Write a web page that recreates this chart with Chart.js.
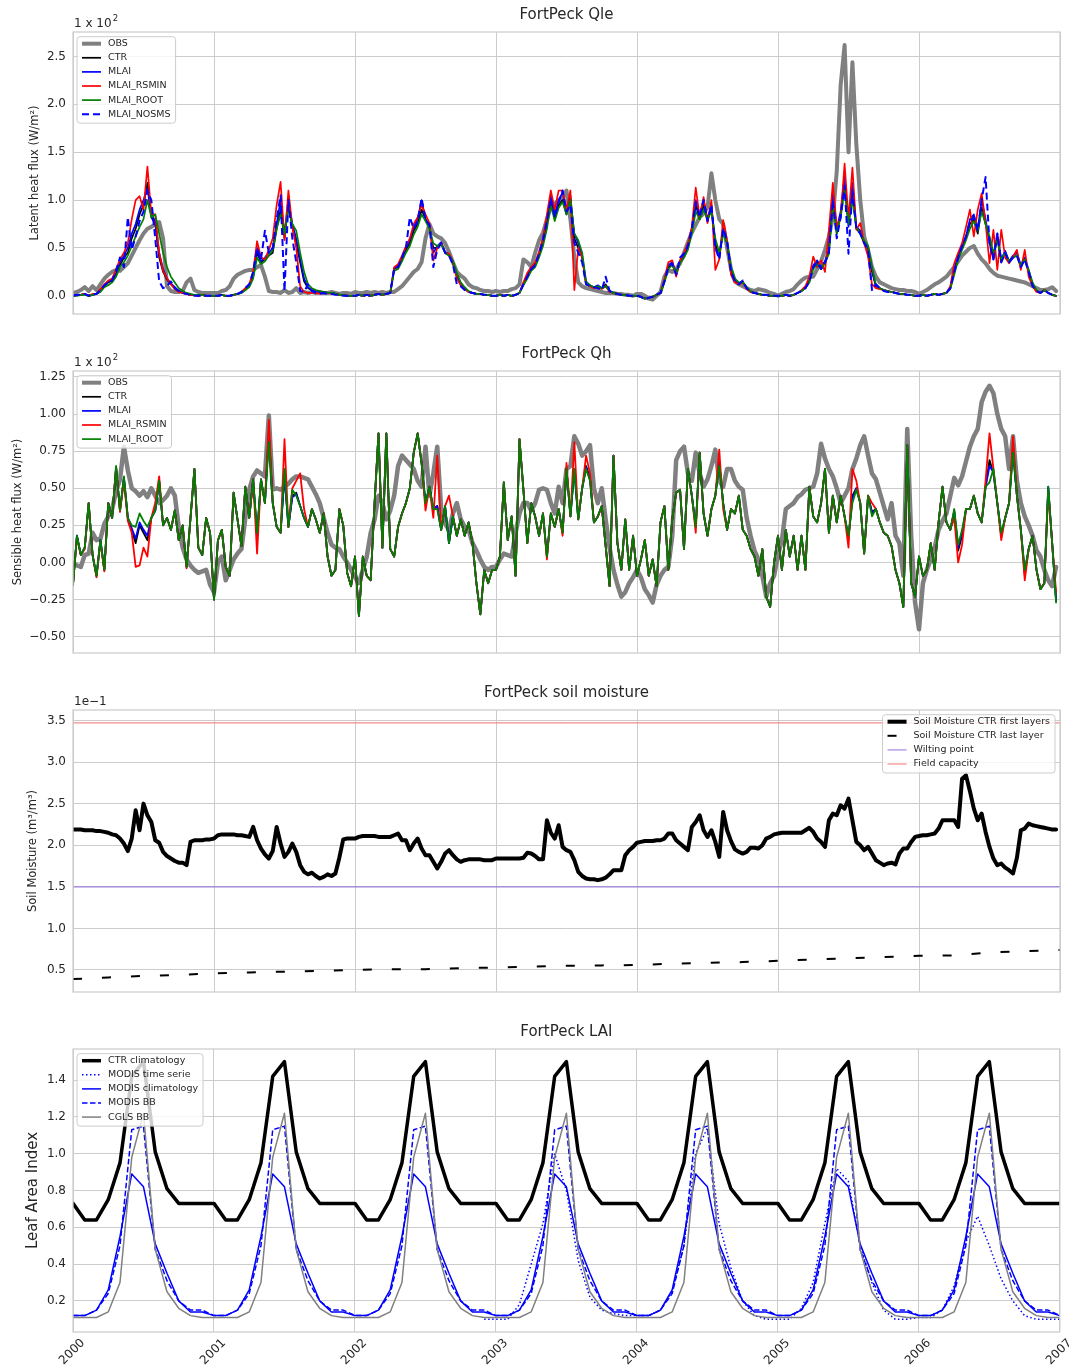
<!DOCTYPE html>
<html>
<head>
<meta charset="utf-8">
<title>FortPeck</title>
<script src="https://cdn.jsdelivr.net/npm/chart.js@4.4.1/dist/chart.umd.min.js"></script>
<style>
  html, body { margin: 0; padding: 0; background: #fff; }
  #fig { position: relative; width: 1074px; height: 1369px; }
  #fig canvas { position: absolute; left: 0; }
</style>
</head>
<body>
<div id="fig">
  <canvas id="qle" width="1074" height="339" style="top:0px"></canvas>
  <canvas id="qh" width="1074" height="339" style="top:339px"></canvas>
  <canvas id="sm" width="1074" height="339" style="top:678px"></canvas>
  <canvas id="lai" width="1074" height="352" style="top:1017px"></canvas>
</div>
<script>
// time bases: ~10-day steps for the fluxes and soil moisture, monthly for LAI
const days = Array.from({length: 252}, (_, i) => 2000 + i / 36);
const months = Array.from({length: 85}, (_, i) => 2000 + i / 12);
const quarters = Array.from({length: 29}, (_, i) => 2000 + i / 4);
const years = [2000, 2001, 2002, 2003, 2004, 2005, 2006, 2007];

// latent heat flux, W/m2
const qleObs = [
  3,4,6,9,5,10,6,12,18,22,25,27,26,30,34,42,50,58,65,70,72,75,77,60,10,5,4,4,5,14,18,6,4,3,3,3,
  3,3,5,6,10,18,22,24,26,27,27,30,32,20,5,4,4,3,6,3,4,8,3,4,3,4,3,4,3,3,4,3,2,3,3,2,
  4,3,3,4,3,4,3,4,3,4,4,7,10,15,20,25,28,35,60,75,65,62,60,55,46,35,25,21,18,12,9,8,6,5,5,4,
  5,4,5,5,7,8,12,38,35,30,45,58,66,80,92,96,100,102,110,80,40,14,10,8,7,6,5,4,3,3,3,2,2,1,1,0,
  2,2,0,-3,-4,0,4,20,27,25,28,34,45,56,66,74,82,86,92,128,100,80,75,50,28,15,12,10,8,6,5,7,6,5,3,2,
  0,2,4,5,7,12,16,19,20,20,28,36,48,62,82,130,220,262,150,244,158,100,62,48,30,20,14,12,10,8,7,6,6,5,5,4,
  2,4,6,9,12,14,17,20,25,30,36,42,46,50,52,44,38,34,28,24,21,20,19,18,17,16,15,14,12,10,8,6,6,7,9,5
];
const qleCtr = [
  0,1,1,2,0,1,2,6,10,14,16,22,32,40,45,60,70,85,95,118,82,75,40,25,17,12,8,5,3,2,1,1,0,1,0,0,
  0,0,1,0,0,1,2,3,6,10,20,45,35,38,42,45,70,90,60,95,72,55,35,15,8,6,5,4,4,3,3,2,1,1,0,0,
  0,1,0,1,0,1,2,1,2,3,28,30,38,48,55,68,75,90,80,72,50,50,55,45,42,35,20,12,8,4,3,2,2,1,1,0,
  0,1,0,1,0,1,3,12,20,28,32,42,55,75,100,80,95,100,85,105,60,50,40,12,10,9,10,8,12,5,3,2,1,1,0,0,
  0,-1,-3,-2,-1,1,3,15,30,33,22,35,40,50,68,95,80,95,78,92,55,40,68,55,25,15,12,15,8,4,3,2,1,1,0,0,
  0,0,1,0,1,3,5,8,15,30,35,28,35,45,105,65,85,120,75,110,70,65,55,50,25,10,8,6,5,4,3,2,2,1,1,0,
  0,1,0,1,2,1,2,3,8,25,40,50,60,75,80,65,92,75,60,40,62,35,45,35,40,42,30,38,25,12,5,3,6,3,1,0
];
const qleMlai = [
  0,1,1,2,0,1,2,6,11,15,17,24,35,42,50,65,75,90,100,112,85,78,45,28,18,13,9,5,3,2,1,1,0,1,0,0,
  0,0,1,0,0,1,2,3,7,11,22,50,36,40,45,50,75,100,65,100,75,60,38,18,9,6,5,4,4,3,3,2,1,1,0,0,
  0,1,0,1,0,1,2,1,2,3,29,31,40,50,58,72,80,100,80,74,45,52,56,46,43,36,22,13,8,4,3,2,2,1,1,0,
  0,1,0,1,0,1,3,13,22,30,33,45,60,80,105,85,100,108,88,100,65,55,42,14,11,9,11,8,10,5,3,2,1,1,0,0,
  0,-1,-3,-2,-1,1,3,16,32,35,24,36,42,52,70,100,85,100,80,95,50,42,70,55,28,16,13,14,8,4,3,2,1,1,0,0,
  0,0,1,0,1,3,5,9,16,32,37,30,36,50,108,70,88,125,72,118,72,68,56,50,28,10,8,6,5,4,3,2,2,1,1,0,
  0,1,0,1,2,1,2,3,9,27,42,52,62,80,85,70,100,80,55,38,65,38,47,36,42,45,32,40,27,12,5,3,6,3,1,0
];
const qleRsmin = [
  0,1,1,2,0,2,2,7,12,16,18,28,38,45,55,80,100,104,90,135,85,85,45,26,18,12,7,4,3,2,1,1,0,1,0,0,
  0,0,1,0,0,1,2,4,8,12,25,57,40,38,48,60,95,119,58,110,72,50,10,4,3,3,3,2,3,3,2,2,1,1,0,0,
  0,1,0,1,0,1,2,1,2,3,30,33,42,52,60,75,82,95,85,76,37,50,55,45,44,36,18,11,7,4,3,2,2,1,1,0,
  0,1,0,1,0,1,3,14,24,30,35,46,60,85,110,90,110,110,90,110,6,50,40,12,10,8,9,7,10,4,3,2,1,1,0,0,
  0,-1,-3,-2,-1,1,3,17,35,37,20,37,45,55,72,113,82,103,76,100,27,38,79,58,22,14,12,14,7,4,3,2,1,1,0,0,
  0,0,1,0,1,3,6,10,20,41,30,37,25,69,118,72,82,138,80,134,69,76,55,41,12,8,7,6,5,4,3,2,2,1,1,0,
  0,1,0,1,2,1,2,3,10,34,45,55,72,90,62,90,107,76,34,69,27,69,40,34,41,48,27,48,20,10,4,3,6,3,1,0
];
const qleRoot = [
  0,0,1,1,0,1,2,4,9,11,14,20,30,35,42,52,62,72,80,100,82,85,65,45,30,20,14,8,5,3,2,1,1,1,0,0,
  0,0,1,0,0,1,2,3,6,9,18,40,33,36,42,48,70,85,65,90,75,68,45,25,12,8,6,5,4,3,3,2,1,1,0,0,
  0,1,0,1,0,1,2,1,2,3,26,28,36,45,52,64,72,85,78,70,55,52,54,45,42,36,24,14,9,5,3,2,2,1,1,0,
  0,1,0,1,0,1,3,11,18,26,30,40,52,70,95,78,92,98,85,100,65,58,45,15,11,9,10,8,10,5,3,2,1,1,0,0,
  0,-1,-3,-2,-1,1,3,14,28,32,24,34,40,48,65,88,80,90,80,88,60,45,65,55,30,18,14,14,9,5,3,2,1,1,0,0,
  0,0,1,0,1,3,5,8,14,28,33,28,34,44,95,65,82,110,75,100,72,65,58,52,30,12,8,6,5,4,3,2,2,1,1,0,
  0,1,0,1,2,1,2,3,7,22,38,48,58,70,78,68,88,75,62,45,58,38,45,36,40,42,32,38,27,14,6,3,6,3,1,0
];
const qleNosms = [
  0,1,1,2,0,2,2,6,11,14,16,26,40,30,82,48,62,78,88,110,100,60,15,8,10,15,8,5,3,2,1,0,0,1,0,0,
  0,0,1,0,0,1,2,4,8,12,25,50,38,68,45,50,80,105,5,100,60,35,5,4,12,5,3,2,3,2,2,1,1,0,0,0,
  0,1,0,1,0,1,2,1,2,3,28,30,40,50,82,70,78,102,80,74,30,48,55,45,42,33,12,10,6,4,3,2,2,1,1,0,
  0,1,0,1,0,1,3,12,20,28,32,44,58,78,102,82,98,110,88,95,55,45,35,12,10,9,8,6,20,5,3,2,1,1,0,0,
  0,-1,-4,-2,-1,1,3,15,30,34,22,40,44,52,70,98,82,100,78,95,50,38,70,58,25,15,12,16,8,4,3,2,1,1,0,0,
  0,0,1,0,1,3,5,8,15,30,35,28,35,45,100,60,82,115,44,110,70,65,55,48,6,12,8,5,4,4,3,2,2,1,1,0,
  0,1,0,1,2,1,2,3,8,25,40,52,62,78,82,68,100,124,55,38,65,35,45,35,40,42,30,38,25,10,5,3,6,3,1,0
];

// sensible heat flux, W/m2
const qhObs = [
  0,-2,-3,5,6,20,15,16,26,31,36,48,56,78,62,50,48,45,48,44,50,45,40,42,45,50,45,24,10,2,-2,-5,-7,-6,-5,-15,
  -20,0,4,-12,-5,2,6,9,30,49,58,62,60,58,99,49,50,49,51,53,56,58,58,57,56,51,46,40,30,20,12,10,9,4,0,-5,
  -10,-14,-5,4,20,29,45,40,29,35,45,65,72,69,66,63,55,51,78,45,60,78,36,26,22,33,40,29,24,22,13,8,2,-3,-5,-3,
  -3,2,6,5,4,20,33,40,40,35,40,49,50,49,40,33,51,40,63,65,85,80,72,75,79,50,40,50,29,10,-5,-15,-23,-20,-14,-10,
  -5,-10,-18,-22,-27,-15,-9,-5,-3,18,69,75,78,60,55,74,60,51,56,65,76,55,51,63,63,55,51,49,30,18,8,2,-9,-23,-14,-9,
  5,15,36,38,40,44,46,49,50,51,60,80,70,63,58,50,40,45,50,63,70,79,85,72,60,56,47,38,29,40,18,13,-9,90,18,-27,
  -45,-14,-5,2,10,22,28,33,45,57,52,58,68,78,85,90,108,115,119,114,100,90,85,63,85,55,40,31,25,18,8,4,-5,-12,-16,-3
];
const qhCtr = [
  -15,18,5,10,40,5,-9,15,-5,40,30,64,35,57,30,22,13,25,20,15,30,35,55,25,30,22,35,15,25,-3,30,63,10,5,30,20,
  -25,15,22,-3,-9,47,29,11,51,30,56,18,56,40,88,40,24,20,60,24,45,47,38,30,24,36,29,20,33,4,-9,-5,36,25,-7,-16,
  4,-36,4,-9,-12,40,87,10,87,9,4,24,33,40,50,74,87,67,40,51,36,38,22,38,13,31,18,29,18,27,13,-14,-35,-5,-14,-5,
  -5,4,54,15,31,-9,83,49,13,40,31,18,33,4,33,24,36,20,63,31,63,29,50,65,57,27,31,38,11,-16,72,13,-5,29,-5,18,
  -9,2,15,-9,2,-16,27,38,-5,29,47,49,9,63,45,24,74,33,18,36,45,68,40,22,36,33,45,22,18,9,4,-9,9,-23,-30,0,
  18,-5,22,4,18,-5,18,-5,51,31,27,40,63,20,45,27,45,31,16,45,50,40,6,45,34,36,27,20,18,11,-5,-14,-30,79,-14,-23,
  4,-9,-5,13,-5,27,51,27,22,34,8,18,36,36,45,33,27,51,69,60,40,18,30,40,78,45,22,-8,9,18,-5,-18,-14,50,13,-25
];
const qhMlai = [
  -15,18,5,10,40,5,-9,15,-5,40,30,64,35,57,30,23,16,27,22,18,30,35,55,25,30,22,35,15,25,-3,30,63,10,5,30,20,
  -25,15,22,-3,-9,47,29,11,51,30,56,18,56,40,86,40,24,20,58,24,44,46,38,30,24,36,29,20,33,4,-9,-5,36,25,-7,-16,
  4,-36,4,-9,-12,40,87,10,87,9,4,24,33,40,50,74,87,67,40,51,36,38,22,38,13,31,18,29,18,27,13,-14,-35,-5,-14,-5,
  -5,4,54,15,31,-9,83,49,13,40,31,18,33,4,33,24,36,20,63,31,63,29,50,64,56,27,31,38,11,-16,72,13,-5,29,-5,18,
  -9,2,15,-9,2,-16,27,38,-5,29,47,49,9,63,45,24,74,33,18,36,45,67,40,22,36,33,45,22,18,9,4,-9,9,-23,-30,0,
  18,-5,22,4,18,-5,18,-5,51,31,27,40,63,20,45,27,45,31,17,43,50,40,6,45,33,36,27,20,18,11,-5,-14,-30,79,-14,-23,
  4,-9,-5,13,-5,27,51,27,22,35,10,20,36,36,45,33,27,51,65,61,40,19,30,40,76,45,22,-6,9,18,-5,-18,-14,51,13,-26
];
const qhRsmin = [
  -15,17,5,9,40,5,-10,14,-6,40,30,64,34,55,28,20,-3,-2,10,4,30,40,58,25,30,22,35,15,25,-4,30,63,10,5,30,20,
  -25,15,22,-3,-9,47,29,11,51,30,56,6,56,40,96,40,24,20,83,24,50,55,60,36,24,36,29,20,33,4,-9,-5,36,25,-7,-16,
  4,-36,4,-9,-12,40,87,10,87,9,4,24,33,40,50,74,87,67,35,51,30,72,22,38,45,31,18,29,18,27,13,-14,-35,-5,-14,-5,
  -5,4,54,15,31,-9,83,49,13,40,31,18,33,2,33,24,36,18,67,31,81,29,50,72,60,27,31,38,11,-16,72,13,-5,29,-5,18,
  -9,2,15,-9,2,-16,27,38,-5,29,47,49,9,63,45,20,74,33,18,36,45,76,36,22,36,33,45,22,18,9,4,-9,9,-23,-30,0,
  18,-5,22,4,18,-5,18,-5,51,31,27,40,63,20,45,27,45,31,10,63,55,40,6,45,40,36,27,20,18,11,-5,-14,-30,79,-14,-23,
  4,-9,-5,13,-5,27,51,27,22,30,0,12,36,36,45,33,27,55,87,63,40,15,30,40,85,45,22,-12,9,18,-5,-18,-14,48,13,-20
];
const qhRoot = [
  -15,18,5,10,40,5,-9,15,-5,40,30,65,35,58,30,25,24,33,28,24,30,35,55,25,30,22,35,15,25,-3,30,63,10,5,30,20,
  -25,15,22,-3,-9,47,29,11,51,30,56,20,56,40,81,40,24,20,63,24,49,45,38,30,24,36,29,20,33,4,-9,-5,36,25,-7,-16,
  4,-36,4,-9,-12,40,87,10,87,9,4,24,33,40,50,74,87,67,40,51,36,36,22,38,13,31,18,29,18,27,13,-14,-35,-5,-14,-5,
  -5,4,54,15,31,-9,83,49,13,40,31,18,33,4,33,24,36,20,63,31,63,29,50,63,55,27,31,38,11,-16,72,13,-5,29,-5,18,
  -9,2,15,-9,2,-16,27,38,-5,29,47,49,9,63,45,24,74,33,18,36,45,65,40,22,36,33,45,22,18,9,4,-9,9,-23,-30,0,
  18,-5,22,4,18,-5,18,-5,51,31,27,40,63,20,45,27,45,31,18,40,49,40,6,45,31,36,27,20,18,11,-5,-14,-30,79,-14,-23,
  4,-9,-5,13,-5,27,51,27,22,36,12,22,36,36,45,33,27,51,54,63,40,20,30,40,74,45,22,-5,9,18,-5,-18,-14,51,13,-27
];

// soil moisture, m3/m3
const smFirst = [
  .219,.219,.219,.218,.218,.218,.217,.217,.216,.215,.213,.212,.208,.202,.193,.208,.242,.218,.250,.236,.228,.206,.203,.192,.187,.184,.181,.179,.179,.176,.204,.206,.206,.206,.207,.207,
  .208,.212,.213,.213,.213,.213,.212,.212,.211,.210,.222,.206,.196,.189,.184,.193,.222,.202,.186,.192,.202,.192,.176,.168,.165,.167,.163,.160,.162,.165,.163,.166,.185,.207,.208,.208,
  .208,.210,.211,.211,.211,.211,.210,.210,.210,.210,.212,.214,.206,.206,.194,.202,.208,.196,.188,.188,.180,.172,.180,.190,.194,.188,.183,.180,.182,.183,.183,.183,.183,.182,.182,.182,
  .184,.184,.184,.184,.184,.184,.184,.185,.191,.190,.187,.183,.183,.230,.215,.208,.224,.198,.194,.192,.182,.168,.163,.160,.159,.159,.158,.159,.161,.165,.170,.170,.170,.188,.194,.198,
  .203,.204,.205,.205,.205,.206,.206,.208,.214,.214,.206,.202,.198,.194,.222,.228,.236,.218,.210,.218,.204,.186,.240,.218,.205,.195,.192,.190,.192,.197,.197,.196,.200,.208,.210,.213,
  .214,.215,.215,.215,.215,.215,.215,.218,.221,.216,.208,.204,.198,.230,.238,.236,.248,.244,.256,.230,.204,.200,.194,.198,.190,.182,.179,.176,.178,.179,.177,.190,.196,.196,.204,.210,
  .211,.212,.212,.213,.214,.220,.230,.230,.230,.230,.222,.280,.284,.265,.244,.230,.238,.216,.198,.184,.176,.178,.173,.170,.166,.185,.218,.220,.226,.224,.223,.222,.221,.220,.219,.219
];
const smLast = [
  .039,.041,.043,.044, .046,.047,.048,.049, .050,.051,.051,.052, .053,.054,.055,.0555,
  .056,.0575,.0585,.0595, .061,.0625,.064,.0655, .067,.0675,.071,.0725, .074
];
const wiltingPoint = 0.150;
const fieldCapacity = 0.347;

// leaf area index, monthly
const laiCtrClim = [
  .73,.64,.64,.75,.95,1.42,1.50,1.01,.81,.73,.73,.73,
  .73,.64,.64,.75,.95,1.42,1.50,1.01,.81,.73,.73,.73,
  .73,.64,.64,.75,.95,1.42,1.50,1.01,.81,.73,.73,.73,
  .73,.64,.64,.75,.95,1.42,1.50,1.01,.81,.73,.73,.73,
  .73,.64,.64,.75,.95,1.42,1.50,1.01,.81,.73,.73,.73,
  .73,.64,.64,.75,.95,1.42,1.50,1.01,.81,.73,.73,.73,
  .73,.64,.64,.75,.95,1.42,1.50,1.01,.81,.73,.73,.73,
  .73
];
const laiModisSerie = [
  null,null,null,null,null,null,null,null,null,null,null,null,
  null,null,null,null,null,null,null,null,null,null,null,null,
  null,null,null,null,null,null,null,null,null,null,null,.10,
  .10,.10,.18,.40,.62,1.00,.80,.42,.22,.15,.13,.12,
  .12,.12,.15,.25,.50,1.00,1.14,.62,.38,.20,.12,.10,
  .10,.10,.16,.30,.62,.92,.85,.50,.30,.15,.10,.10,
  .11,.11,.15,.28,.52,.66,.50,.32,.20,.12,.10,.10,
  .10
];
const laiModisClim = [
  .12,.12,.15,.26,.55,.89,.82,.51,.35,.20,.14,.14,
  .12,.12,.15,.26,.55,.89,.82,.51,.35,.20,.14,.14,
  .12,.12,.15,.26,.55,.89,.82,.51,.35,.20,.14,.14,
  .12,.12,.15,.26,.55,.89,.82,.51,.35,.20,.14,.14,
  .12,.12,.15,.26,.55,.89,.82,.51,.35,.20,.14,.14,
  .12,.12,.15,.26,.55,.89,.82,.51,.35,.20,.14,.14,
  .12,.12,.15,.26,.55,.89,.82,.51,.35,.20,.14,.14,
  .12
];
const laiModisBB = [
  .12,.12,.15,.24,.50,1.13,1.15,.48,.31,.20,.15,.15,
  .12,.12,.15,.24,.50,1.13,1.15,.48,.31,.20,.15,.15,
  .12,.12,.15,.24,.50,1.13,1.15,.48,.31,.20,.15,.15,
  .12,.12,.15,.24,.50,1.13,1.15,.48,.31,.20,.15,.15,
  .12,.12,.15,.24,.50,1.13,1.15,.48,.31,.20,.15,.15,
  .12,.12,.15,.24,.50,1.13,1.15,.48,.31,.20,.15,.15,
  .12,.12,.15,.24,.50,1.13,1.15,.48,.31,.20,.15,.15,
  .12
];
const laiCglsBB = [
  .11,.11,.11,.14,.30,.98,1.22,.48,.25,.16,.12,.11,
  .11,.11,.11,.14,.30,.98,1.22,.48,.25,.16,.12,.11,
  .11,.11,.11,.14,.30,.98,1.22,.48,.25,.16,.12,.11,
  .11,.11,.11,.14,.30,.98,1.22,.48,.25,.16,.12,.11,
  .11,.11,.11,.14,.30,.98,1.22,.48,.25,.16,.12,.11,
  .11,.11,.11,.14,.30,.98,1.22,.48,.25,.16,.12,.11,
  .11,.11,.11,.14,.30,.98,1.22,.48,.25,.16,.12,.11,
  .11
];

// tick values
const qleTicks = [0, 50, 100, 150, 200, 250];
const qhTicks = [-50, -25, 0, 25, 50, 75, 100, 125];
const smTicks = [0.05, 0.10, 0.15, 0.20, 0.25, 0.30, 0.35];
const laiTicks = [0.2, 0.4, 0.6, 0.8, 1.0, 1.2, 1.4];

const INK = '#262626';
const GRID = '#cccccc';
const FAMILY = 'DejaVu Sans';
Chart.defaults.font.family = FAMILY;
Chart.defaults.color = INK;

const pts = (xs, ys) => ys.map((y, i) => ({x: xs[i], y}));
const minus = s => s.replace('-', '\u2212');

function line(label, xs, ys, color, width, order, dash) {
  return {
    label, data: pts(xs, ys), borderColor: color, borderWidth: width, order,
    borderDash: dash || [], pointRadius: 0, fill: false, tension: 0,
    borderJoinStyle: 'round', borderCapStyle: dash ? 'butt' : 'round'
  };
}

// light grey box around the axes
const frame = {
  id: 'frame',
  afterDatasetsDraw(chart) {
    const {ctx, chartArea: a} = chart;
    ctx.save();
    ctx.strokeStyle = GRID;
    ctx.lineWidth = 1.25;
    ctx.strokeRect(a.left, a.top, a.right - a.left, a.bottom - a.top);
    ctx.restore();
  }
};

// scale multiplier written above the y axis
function offsetLabel(text, sup) {
  return {
    id: 'offsetLabel',
    afterDraw(chart) {
      const {ctx, chartArea: a} = chart;
      ctx.save();
      ctx.fillStyle = INK;
      ctx.textAlign = 'left';
      ctx.textBaseline = 'alphabetic';
      ctx.font = `12px "${FAMILY}"`;
      const y = a.top - 5;
      ctx.fillText(text, a.left + 1, y);
      if (sup) {
        const w = ctx.measureText(text).width;
        ctx.font = `8.5px "${FAMILY}"`;
        ctx.fillText(sup, a.left + 2 + w, y - 6);
      }
      ctx.restore();
    }
  };
}

// framed legend drawn inside the axes
function boxLegend(items, side) {
  return {
    id: 'boxLegend',
    afterDatasetsDraw(chart) {
      const {ctx, chartArea: a} = chart;
      const row = 14.1;
      ctx.save();
      ctx.font = `9.5px "${FAMILY}"`;
      const tw = Math.max(...items.map(it => ctx.measureText(it.label).width));
      const w = 31 + tw + 5;
      const h = 7 + (items.length - 1) * row + 9;
      const x0 = side === 'right' ? a.right - 5 - w : a.left + 4;
      const y0 = a.top + 4.7;
      ctx.beginPath();
      ctx.roundRect(x0, y0, w, h, 3);
      ctx.fillStyle = 'rgba(255,255,255,0.8)';
      ctx.fill();
      ctx.strokeStyle = GRID;
      ctx.lineWidth = 1;
      ctx.stroke();
      items.forEach((it, i) => {
        const y = y0 + 7 + i * row;
        ctx.beginPath();
        ctx.setLineDash(it.dash || []);
        ctx.lineWidth = it.width;
        ctx.strokeStyle = it.color;
        ctx.moveTo(x0 + 5, y);
        ctx.lineTo(x0 + 24, y);
        ctx.stroke();
        ctx.setLineDash([]);
        ctx.fillStyle = INK;
        ctx.textAlign = 'left';
        ctx.textBaseline = 'middle';
        ctx.fillText(it.label, x0 + 31, y);
      });
      ctx.restore();
    }
  };
}

function panel(id, cfg) {
  const showYears = !!cfg.showYears;
  return new Chart(document.getElementById(id), {
    type: 'line',
    data: {datasets: cfg.datasets},
    plugins: [frame, boxLegend(cfg.legend, cfg.legendSide), offsetLabel(cfg.offset || '', cfg.offsetSup)],
    options: {
      responsive: false,
      animation: false,
      events: [],
      layout: {padding: {left: 0, right: 14, top: 0, bottom: showYears ? 0 : 25}},
      scales: {
        x: {
          type: 'linear', min: 2000, max: 2007,
          afterBuildTicks: s => { s.ticks = years.map(v => ({value: v})); },
          afterFit: s => { s.height = showYears ? 37 : 0; },
          grid: {color: GRID, lineWidth: 1, drawTicks: false},
          border: {display: false},
          ticks: {
            display: showYears, autoSkip: false, minRotation: 45, maxRotation: 45,
            labelOffset: 10, padding: 4, color: INK, font: {size: 12},
            callback: v => String(v)
          }
        },
        y: {
          type: 'linear', min: cfg.yMin, max: cfg.yMax,
          afterBuildTicks: s => { s.ticks = cfg.yTicks.map(v => ({value: v})); },
          afterFit: s => { s.width = 73; },
          grid: {color: GRID, lineWidth: 1, drawTicks: false},
          border: {display: false},
          ticks: {padding: 7, color: INK, font: {size: 12}, callback: cfg.fmt},
          title: {
            display: true, text: cfg.yTitle, color: INK,
            font: {size: cfg.yTitleSize || 11.5}, padding: {top: cfg.yTitlePad, bottom: 0}
          }
        }
      },
      plugins: {
        legend: {display: false},
        tooltip: {enabled: false},
        title: {
          display: true, text: cfg.title, fullSize: false, color: INK,
          font: {size: 15, weight: 'normal'}, padding: {top: 6, bottom: 8}
        }
      }
    }
  });
}

panel('qle', {
  title: 'FortPeck Qle',
  yMin: -19, yMax: 275.5, yTicks: qleTicks,
  fmt: v => (v / 100).toFixed(1),
  yTitle: 'Latent heat flux (W/m\u00b2)', yTitlePad: 28,
  offset: '1 x 10', offsetSup: '2',
  datasets: [
    line('OBS', days, qleObs, '#808080', 4, 6),
    line('CTR', days, qleCtr, '#000000', 1.7, 5),
    line('MLAI', days, qleMlai, '#0000ff', 1.7, 4),
    line('MLAI_RSMIN', days, qleRsmin, '#ff0000', 1.7, 3),
    line('MLAI_ROOT', days, qleRoot, '#008000', 1.7, 2),
    line('MLAI_NOSMS', days, qleNosms, '#0000ff', 2, 1, [7, 4])
  ],
  legend: [
    {label: 'OBS', color: '#808080', width: 4},
    {label: 'CTR', color: '#000000', width: 1.7},
    {label: 'MLAI', color: '#0000ff', width: 1.7},
    {label: 'MLAI_RSMIN', color: '#ff0000', width: 1.7},
    {label: 'MLAI_ROOT', color: '#008000', width: 1.7},
    {label: 'MLAI_NOSMS', color: '#0000ff', width: 2, dash: [7, 4]}
  ]
});

panel('qh', {
  title: 'FortPeck Qh',
  yMin: -61, yMax: 129, yTicks: qhTicks,
  fmt: v => minus((v / 100).toFixed(2)),
  yTitle: 'Sensible heat flux (W/m\u00b2)', yTitlePad: 11,
  offset: '1 x 10', offsetSup: '2',
  datasets: [
    line('OBS', days, qhObs, '#808080', 4.5, 5),
    line('CTR', days, qhCtr, '#000000', 1.8, 4),
    line('MLAI', days, qhMlai, '#0000ff', 1.8, 3),
    line('MLAI_RSMIN', days, qhRsmin, '#ff0000', 1.8, 2),
    line('MLAI_ROOT', days, qhRoot, '#008000', 1.8, 1)
  ],
  legend: [
    {label: 'OBS', color: '#808080', width: 4},
    {label: 'CTR', color: '#000000', width: 1.7},
    {label: 'MLAI', color: '#0000ff', width: 1.7},
    {label: 'MLAI_RSMIN', color: '#ff0000', width: 1.7},
    {label: 'MLAI_ROOT', color: '#008000', width: 1.7}
  ]
});

panel('sm', {
  title: 'FortPeck soil moisture',
  yMin: 0.0235, yMax: 0.3626, yTicks: smTicks,
  fmt: v => (v * 10).toFixed(1),
  yTitle: 'Soil Moisture (m\u00b3/m\u00b3)', yTitlePad: 26,
  offset: '1e\u22121',
  legendSide: 'right',
  datasets: [
    line('Soil Moisture CTR first layers', days, smFirst, '#000000', 4, 4),
    line('Soil Moisture CTR last layer', quarters, smLast, '#000000', 2, 3, [9, 20]),
    line('Wilting point', [2000, 2007], [wiltingPoint, wiltingPoint], 'rgba(147,112,219,0.85)', 1.2, 2),
    line('Field capacity', [2000, 2007], [fieldCapacity, fieldCapacity], 'rgba(240,128,128,0.9)', 1.2, 1)
  ],
  legend: [
    {label: 'Soil Moisture CTR first layers', color: '#000000', width: 4},
    {label: 'Soil Moisture CTR last layer', color: '#000000', width: 2, dash: [9, 20]},
    {label: 'Wilting point', color: 'rgba(147,112,219,0.85)', width: 1.2},
    {label: 'Field capacity', color: 'rgba(240,128,128,0.9)', width: 1.2}
  ]
});

panel('lai', {
  title: 'FortPeck LAI',
  showYears: true,
  yMin: 0.031, yMax: 1.569, yTicks: laiTicks,
  fmt: v => v.toFixed(1),
  yTitle: 'Leaf Area Index', yTitleSize: 15, yTitlePad: 24,
  datasets: [
    line('CTR climatology', months, laiCtrClim, '#000000', 3.5, 5),
    line('MODIS time serie', months, laiModisSerie, '#0000ff', 1.5, 4, [1.5, 2.5]),
    line('MODIS climatology', months, laiModisClim, '#0000ff', 1.5, 3),
    line('MODIS BB', months, laiModisBB, '#0000ff', 1.5, 2, [5.5, 2.5]),
    line('CGLS BB', months, laiCglsBB, '#808080', 1.5, 1)
  ],
  legend: [
    {label: 'CTR climatology', color: '#000000', width: 3.5},
    {label: 'MODIS time serie', color: '#0000ff', width: 1.5, dash: [1.5, 2.5]},
    {label: 'MODIS climatology', color: '#0000ff', width: 1.5},
    {label: 'MODIS BB', color: '#0000ff', width: 1.5, dash: [5.5, 2.5]},
    {label: 'CGLS BB', color: '#808080', width: 1.5}
  ]
});
</script>
</body>
</html>
